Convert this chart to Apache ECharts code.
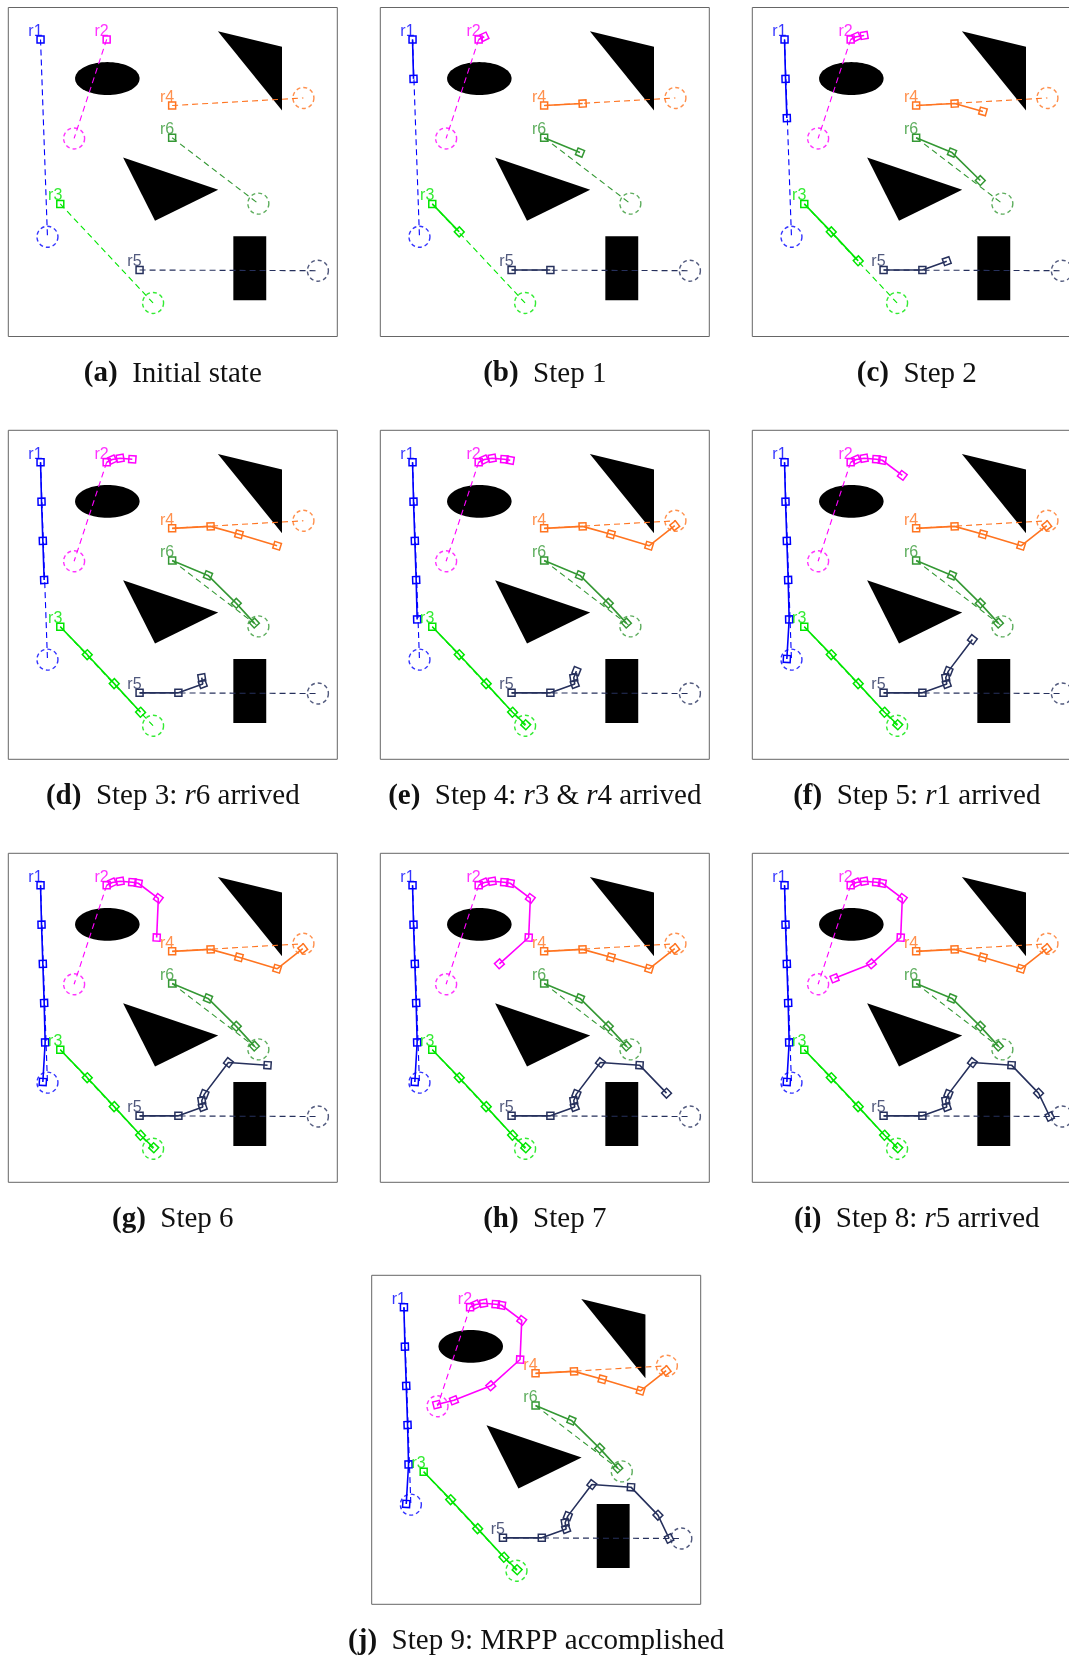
<!DOCTYPE html>
<html>
<head>
<meta charset="utf-8">
<script src="https://cdn.jsdelivr.net/npm/echarts@6/dist/echarts.min.js"></script>
<style>
html,body{margin:0;padding:0;background:#fff;}
#chart{width:1069px;height:1656px;}
</style>
</head>
<body>
<div id="chart"></div>
<script>
// world is 0..100 on both axes, y grows downwards
const robotNames = ['r1', 'r2', 'r3', 'r4', 'r5', 'r6'];
const robotColors = ['#0000ff', '#ff00ff', '#00e600', '#ff7420', '#26305c', '#349834'];

const r1Path = [[9.8, 9.7], [10.1, 21.7], [10.5, 33.6], [10.9, 45.5], [11.2, 57.5], [10.5, 69.5]];
const r2Path = [[29.9, 9.7], [31.6, 8.9], [34.0, 8.5], [37.7, 8.8], [39.5, 9.1], [45.6, 13.7], [45.1, 25.6], [36.2, 33.6], [25.0, 38.0], [19.8, 39.3]];
const r3Path = [[15.8, 59.7], [24.0, 68.2], [32.2, 77.0], [40.2, 85.7], [44.2, 89.5]];
const r4Path = [[49.8, 29.8], [61.5, 29.2], [70.1, 31.6], [81.7, 35.1], [89.5, 29.0]];
const r5Path = [[39.9, 79.8], [51.7, 79.8], [59.1, 77.1], [58.8, 75.2], [59.6, 73.2], [66.9, 63.6], [78.8, 64.4], [87.0, 72.9], [90.4, 80.0]];
const r6Path = [[49.8, 39.6], [60.7, 44.1], [69.3, 52.6], [74.8, 58.6]];
const goals = [[11.9, 69.7], [20.0, 39.8], [44.0, 89.8], [89.7, 27.5], [94.1, 80.0], [76.0, 59.6]];

const triangleTop = [[63.7, 7.2], [83.2, 11.9], [83.2, 31.3]];
const triangleMid = [[34.9, 45.6], [63.8, 55.4], [44.6, 64.8]];
const rectBox = [[68.4, 69.5], [78.4, 89.0]];
const ellipseBox = [30.1, 21.6, 9.8, 5.0]; // cx, cy, rx, ry

const panelSteps = [0, 1, 2, 3, 4, 5, 6, 7, 8, 9];
const panelTags = ['(a)', '(b)', '(c)', '(d)', '(e)', '(f)', '(g)', '(h)', '(i)', '(j)'];
const panelCaptions = ['Initial state', 'Step 1', 'Step 2', 'Step 3: {i|r}6 arrived',
  'Step 4: {i|r}3 & {i|r}4 arrived', 'Step 5: {i|r}1 arrived', 'Step 6', 'Step 7',
  'Step 8: {i|r}5 arrived', 'Step 9: MRPP accomplished'];

const paths = [r1Path, r2Path, r3Path, r4Path, r5Path, r6Path];
const PANEL = 329;
const panelPos = [[8.3, 7.5], [380.3, 7.5], [752.3, 7.5],
  [8.3, 430.3], [380.3, 430.3], [752.3, 430.3],
  [8.3, 853.3], [380.3, 853.3], [752.3, 853.3],
  [371.7, 1275.3]];

function heading(path, i) {
  if (i === 0) return 0;
  const dx = path[i][0] - path[i - 1][0];
  const dy = path[i][1] - path[i - 1][1];
  return -Math.atan2(dy, dx) * 180 / Math.PI;
}

function renderObstacle(params, api) {
  const k = params.dataIndex;
  let pts;
  if (k === 0) pts = triangleTop.map(p => api.coord(p));
  else if (k === 1) pts = triangleMid.map(p => api.coord(p));
  else if (k === 2) {
    const a = rectBox[0], b = rectBox[1];
    pts = [[a[0], a[1]], [b[0], a[1]], [b[0], b[1]], [a[0], b[1]]].map(p => api.coord(p));
  } else {
    pts = [];
    for (let t = 0; t < 72; t++) {
      const ang = t / 72 * Math.PI * 2;
      pts.push(api.coord([ellipseBox[0] + ellipseBox[2] * Math.cos(ang), ellipseBox[1] + ellipseBox[3] * Math.sin(ang)]));
    }
  }
  return { type: 'polygon', shape: { points: pts }, style: { fill: '#000' } };
}

const serif = '"Liberation Serif", "DejaVu Serif", serif';
const capSize = 29;
const grids = [], xAxes = [], yAxes = [], series = [];

panelSteps.forEach((step, p) => {
  grids.push({
    left: panelPos[p][0], top: panelPos[p][1], width: PANEL, height: PANEL,
    outerBoundsMode: 'none', containLabel: false,
    show: true, borderColor: '#666', borderWidth: 1, backgroundColor: '#fff'
  });
  xAxes.push({
    gridIndex: p, type: 'value', min: 0, max: 100,
    axisLine: { show: false }, axisTick: { show: false }, axisLabel: { show: false }, splitLine: { show: false },
    name: '{b|' + panelTags[p] + '}  ' + panelCaptions[p],
    nameLocation: 'middle', nameGap: 23,
    nameTextStyle: {
      fontFamily: serif, fontSize: capSize, color: '#111',
      rich: {
        b: { fontFamily: serif, fontSize: capSize, fontWeight: 'bold', color: '#111' },
        i: { fontFamily: serif, fontSize: capSize, fontStyle: 'italic', color: '#111' }
      }
    }
  });
  yAxes.push({
    gridIndex: p, type: 'value', min: 0, max: 100, inverse: true,
    axisLine: { show: false }, axisTick: { show: false }, axisLabel: { show: false }, splitLine: { show: false }
  });

  series.push({
    type: 'custom', xAxisIndex: p, yAxisIndex: p, silent: true, z: 1,
    renderItem: renderObstacle,
    data: [[0, 0], [1, 1], [2, 2], [3, 3]]
  });

  paths.forEach((path, r) => {
    const c = robotColors[r];
    series.push({
      type: 'line', xAxisIndex: p, yAxisIndex: p, silent: true, z: 2,
      data: [path[0], goals[r]], showSymbol: false, symbol: 'none',
      lineStyle: { color: c, width: 1.1, type: [6, 4] }
    });
    series.push({
      type: 'scatter', xAxisIndex: p, yAxisIndex: p, silent: true, z: 3,
      data: [goals[r]], symbol: 'circle', symbolSize: 21,
      itemStyle: { color: 'rgba(0,0,0,0)', borderColor: c, borderWidth: 1.4, borderType: [4, 3] }
    });
    const n = Math.min(step, path.length - 1) + 1;
    series.push({
      type: 'line', xAxisIndex: p, yAxisIndex: p, silent: true, z: 4,
      data: path.slice(0, n).map((pt, i) => ({ value: pt, symbolRotate: heading(path, i) })),
      symbol: 'rect', symbolSize: 7, showAllSymbol: true,
      lineStyle: { color: c, width: 1.6 },
      itemStyle: { color: 'rgba(255,255,255,0)', borderColor: c, borderWidth: 1.5 }
    });
  });

  series.push({
    type: 'scatter', xAxisIndex: p, yAxisIndex: p, silent: true, z: 5,
    symbolSize: 1, itemStyle: { color: 'rgba(0,0,0,0)' },
    data: paths.map((path, r) => ({
      value: path[0],
      label: { color: robotColors[r] }
    })),
    label: {
      show: true, position: 'inside', align: 'right', verticalAlign: 'bottom', offset: [2, 0],
      fontFamily: '"Liberation Sans", Arial, sans-serif', fontSize: 16,
      formatter: params => robotNames[params.dataIndex]
    }
  });
});

const chart = echarts.init(document.getElementById('chart'), null, { renderer: 'canvas' });
chart.setOption({
  animation: false,
  backgroundColor: '#fff',
  grid: grids,
  xAxis: xAxes,
  yAxis: yAxes,
  series: series
});
</script>
</body>
</html>
